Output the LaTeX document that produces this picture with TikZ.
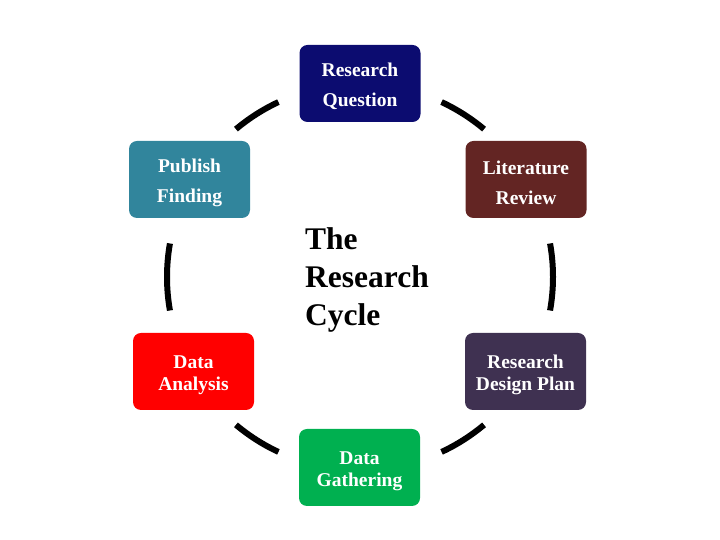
\documentclass[tikz,border=0pt]{standalone}
\usepackage{fontspec}
\setmainfont{Liberation Serif}
\usetikzlibrary{positioning}
\definecolor{questionblue}{RGB}{12,12,112}
\definecolor{reviewred}{RGB}{99,37,35}
\definecolor{publishteal}{RGB}{49,133,156}
\definecolor{designpurple}{RGB}{63,49,81}
\definecolor{gathergreen}{RGB}{0,176,80}
\definecolor{analysisred}{RGB}{255,0,0}
\newcommand{\stagestrut}{\rule{0pt}{20pt}}

\begin{document}
\begin{tikzpicture}[x=1pt, y=1pt,
  stage/.style={rectangle, rounded corners=8pt, minimum width=121pt, minimum height=77pt,
    align=center, text=white, inner sep=2pt},
  widegap/.style={font=\fontsize{19.5}{30}\selectfont\bfseries},
  narrowgap/.style={font=\fontsize{19.5}{22}\selectfont\bfseries},
  cyclearc/.style={line width=6pt}]
\useasboundingbox (0,0) rectangle (720,540);
\coordinate (hub) at (360,263);
\node[stage,widegap,fill=questionblue] (question) at (360,456.5) {\stagestrut Research\\Question};
\node[stage,widegap,fill=reviewred] (review) at (526,360.5) {\stagestrut Literature\\Review};
\node[stage,widegap,fill=publishteal] (publish) at (189.5,360.5) {\stagestrut Publish\\Finding};
\node[stage,narrowgap,fill=analysisred] (analysis) at (193.5,168.5) {\stagestrut Data\\Analysis};
\node[stage,narrowgap,fill=designpurple] (design) at (525.5,168.5) {\stagestrut Research\\Design Plan};
\node[stage,narrowgap,fill=gathergreen] (gather) at (359.5,72.5) {\stagestrut Data\\Gathering};
\node[anchor=west, align=left, inner sep=0pt, font=\fontsize{31.5}{38}\selectfont\bfseries] (title) at (305,260) {The\\Research\\Cycle};
% arcs of the cycle
\foreach \s/\e in {50/65, 115/130, 170/190, 230/245, 295/310, -10/10}
  \draw[cyclearc] ([shift={(\s:193)}]hub) arc[start angle=\s, end angle=\e, radius=193];
\end{tikzpicture}
\end{document}
